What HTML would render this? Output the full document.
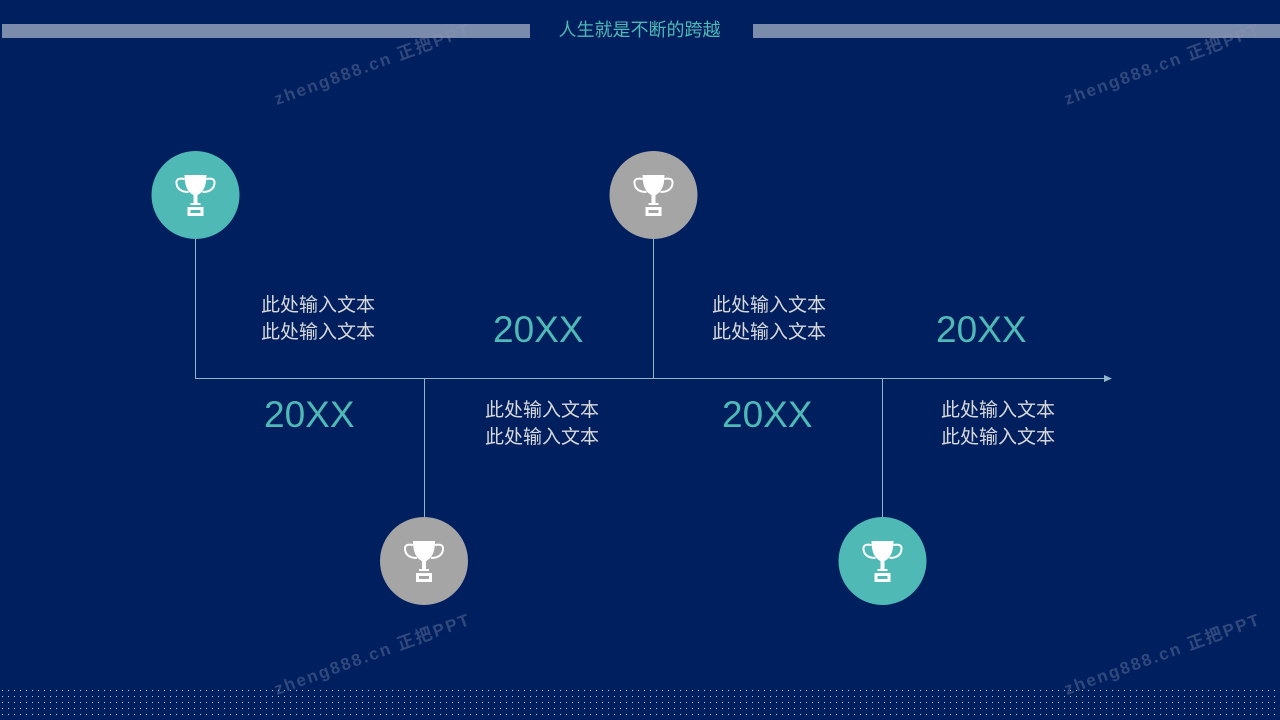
<!DOCTYPE html>
<html><head><meta charset="utf-8"><style>
body{margin:0;width:1280px;height:720px;background:#001f5f;position:relative;overflow:hidden;font-family:"Liberation Sans","Noto Sans CJK SC",sans-serif}
.a{position:absolute}
.t{color:#d9d9d9;font-size:19px;line-height:27px}
.y{color:#4fb9b5;font-size:37px;line-height:40px}
.wm{color:rgba(140,150,180,0.35);font-size:17px;font-weight:bold;letter-spacing:2px;transform:rotate(-20deg)}
</style></head><body>
<div class="a" style="left:2px;top:24px;width:528px;height:14px;background:#7b8bab"></div>
<div class="a" style="left:753px;top:24px;width:527px;height:14px;background:#7b8bab"></div>
<div class="a" style="left:528px;top:18px;width:223px;text-align:center;color:#4fb9b5;font-size:18px;line-height:24px">人生就是不断的跨越</div>
<svg class="a" style="left:0;top:688px" width="1280" height="32"><defs><pattern id="p" width="6" height="6" patternUnits="userSpaceOnUse"><rect x="2" y="2" width="1" height="1" fill="#c8d0e0"/></pattern></defs><rect width="1280" height="32" fill="url(#p)"/></svg>
<svg class="a" style="left:0;top:0" width="1280" height="720">
<g stroke="#8fb7c9" stroke-width="1" fill="none">
<line x1="195.5" y1="238" x2="195.5" y2="378.5"/>
<line x1="195" y1="378.5" x2="1108" y2="378.5"/>
<line x1="424.5" y1="378" x2="424.5" y2="517"/>
<line x1="653.5" y1="238" x2="653.5" y2="378"/>
<line x1="882.5" y1="378" x2="882.5" y2="517"/>
</g>
<polygon points="1112,378.5 1104,375 1104,382" fill="#8fb7c9"/>
<defs><g id="tr" fill="#fff">
<path d="M-11,-20 H11 Q11,-4 2,0 V8 H-2 V0 Q-11,-4 -11,-20Z"/>
<path d="M-11,-16 Q-22,-18 -18,-8 Q-15,-3 -7,-3" stroke="#fff" stroke-width="2" fill="none"/>
<path d="M11,-16 Q22,-18 18,-8 Q15,-3 7,-3" stroke="#fff" stroke-width="2" fill="none"/>
<path d="M-5,8 H5 V10 H-5Z"/>
<path d="M-8,12 H8 V21 H-8Z M-5,15 V18 H5 V15Z" fill-rule="evenodd"/>
</g></defs>
<circle cx="195.5" cy="195" r="44" fill="#4fb9b5"/><use href="#tr" x="195.5" y="195"/>
<circle cx="653.5" cy="195" r="44" fill="#a5a5a5"/><use href="#tr" x="653.5" y="195"/>
<circle cx="424" cy="561" r="44" fill="#a5a5a5"/><use href="#tr" x="424" y="561"/>
<circle cx="882.5" cy="561" r="44" fill="#4fb9b5"/><use href="#tr" x="882.5" y="561"/>
</svg>
<div class="a t" style="left:261px;top:292px">此处输入文本<br>此处输入文本</div>
<div class="a t" style="left:712px;top:292px">此处输入文本<br>此处输入文本</div>
<div class="a t" style="left:485px;top:397px">此处输入文本<br>此处输入文本</div>
<div class="a t" style="left:941px;top:397px">此处输入文本<br>此处输入文本</div>
<div class="a y" style="left:493px;top:310px">20XX</div>
<div class="a y" style="left:936px;top:310px">20XX</div>
<div class="a y" style="left:264px;top:395px">20XX</div>
<div class="a y" style="left:722px;top:395px">20XX</div>
<div class="a wm" style="left:268px;top:50px">zheng888.cn 正把PPT</div>
<div class="a wm" style="left:1058px;top:50px">zheng888.cn 正把PPT</div>
<div class="a wm" style="left:268px;top:640px">zheng888.cn 正把PPT</div>
<div class="a wm" style="left:1058px;top:640px">zheng888.cn 正把PPT</div>
</body></html>
